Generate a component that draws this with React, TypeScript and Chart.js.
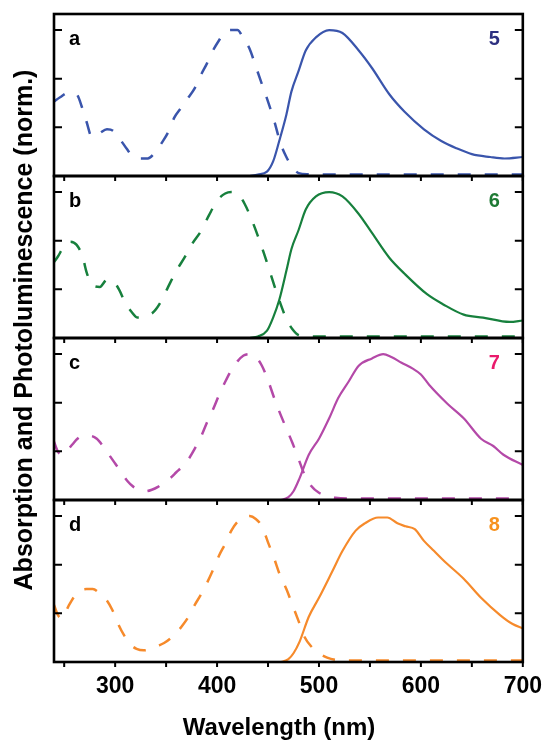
import { useEffect, useRef } from 'react';
import { Chart, registerables } from 'chart.js';

Chart.register(...registerables);

// ---------- data ----------
const xTickLabels = [300, 400, 500, 600, 700];
const xTickMarks = [250, 300, 350, 400, 450, 500, 550, 600, 650, 700];
const yTickValues = [1 / 3, 2 / 3, 1];
const panelLetters = ['a', 'b', 'c', 'd'];
const compoundLabels = ['5', '6', '7', '8'];
const xTitle = 'Wavelength (nm)';
const yTitle = 'Absorption and Photoluminescence (norm.)';

// panel a (compound 5)
const absAWl = [240, 246, 254, 262, 268, 272, 277, 284, 292, 298, 305, 311, 318, 325, 332, 340, 346, 352, 358, 364, 371, 378, 384, 390, 396, 402, 408, 414, 420, 426, 432, 438, 444, 450, 456, 462, 468, 474, 480, 490, 500, 550, 600, 650, 700];
const absAVal = [0.51, 0.54, 0.57, 0.56, 0.46, 0.37, 0.27, 0.29, 0.32, 0.31, 0.25, 0.19, 0.13, 0.12, 0.12, 0.17, 0.23, 0.30, 0.40, 0.46, 0.53, 0.60, 0.69, 0.77, 0.86, 0.93, 0.99, 1.0, 1.0, 0.94, 0.87, 0.75, 0.63, 0.51, 0.38, 0.23, 0.13, 0.06, 0.02, 0.012, 0.01, 0.01, 0.01, 0.01, 0.01];
const emAWl = [432, 440, 449, 455, 461, 468, 473, 480, 487, 497, 510, 523, 539, 552, 569, 584, 603, 620, 635, 650, 668, 682, 700];
const emAVal = [0.0, 0.01, 0.03, 0.10, 0.24, 0.42, 0.58, 0.72, 0.86, 0.95, 1.0, 0.98, 0.86, 0.74, 0.56, 0.44, 0.32, 0.24, 0.19, 0.15, 0.13, 0.12, 0.13];

// panel b (compound 6)
const absBWl = [240, 244, 250, 256, 262, 268, 272, 278, 285, 292, 298, 304, 310, 316, 322, 330, 338, 345, 352, 360, 368, 376, 384, 392, 400, 408, 414, 420, 427, 434, 440, 446, 452, 458, 463, 468, 474, 480, 490, 500, 550, 600, 650, 700];
const absBVal = [0.52, 0.56, 0.63, 0.66, 0.64, 0.56, 0.45, 0.36, 0.35, 0.40, 0.39, 0.33, 0.24, 0.18, 0.14, 0.15, 0.18, 0.25, 0.35, 0.46, 0.55, 0.65, 0.73, 0.84, 0.94, 0.99, 1.0, 0.99, 0.92, 0.81, 0.70, 0.58, 0.45, 0.32, 0.22, 0.13, 0.06, 0.02, 0.012, 0.01, 0.01, 0.01, 0.01, 0.01];
const emBWl = [432, 440, 449, 455, 461, 468, 473, 480, 487, 497, 510, 523, 539, 552, 569, 584, 606, 622, 642, 661, 687, 700];
const emBVal = [0.0, 0.01, 0.05, 0.14, 0.26, 0.46, 0.61, 0.74, 0.88, 0.97, 1.0, 0.97, 0.85, 0.72, 0.55, 0.44, 0.30, 0.23, 0.16, 0.14, 0.11, 0.12];

// panel c (compound 7)
const absCWl = [240, 244, 248, 253, 258, 263, 268, 275, 282, 288, 294, 300, 306, 312, 318, 324, 330, 336, 342, 348, 354, 360, 366, 372, 378, 384, 390, 396, 402, 408, 414, 420, 426, 432, 438, 444, 450, 456, 462, 468, 474, 480, 486, 492, 500, 508, 516, 530, 600, 650, 700];
const absCVal = [0.40, 0.33, 0.31, 0.34, 0.38, 0.42, 0.44, 0.44, 0.42, 0.37, 0.31, 0.25, 0.19, 0.13, 0.09, 0.07, 0.06, 0.07, 0.09, 0.12, 0.15, 0.19, 0.23, 0.28, 0.35, 0.43, 0.53, 0.62, 0.72, 0.81, 0.89, 0.95, 0.99, 1.0, 0.98, 0.92, 0.82, 0.70, 0.59, 0.49, 0.39, 0.28, 0.17, 0.10, 0.05, 0.03, 0.015, 0.01, 0.01, 0.01, 0.01];
const emCWl = [463, 470, 475, 481, 490, 500, 510, 519, 529, 539, 552, 563, 571, 581, 592, 600, 608, 626, 642, 659, 671, 681, 700];
const emCVal = [0.0, 0.02, 0.06, 0.15, 0.31, 0.42, 0.56, 0.70, 0.81, 0.92, 0.97, 1.0, 0.98, 0.94, 0.90, 0.86, 0.79, 0.66, 0.56, 0.42, 0.37, 0.31, 0.24];

// panel d (compound 8)
const absDWl = [240, 244, 248, 254, 260, 266, 272, 278, 285, 291, 297, 303, 309, 315, 321, 328, 335, 342, 348, 354, 360, 366, 372, 378, 384, 390, 396, 402, 408, 414, 420, 426, 432, 438, 444, 450, 456, 462, 468, 474, 480, 486, 492, 500, 508, 516, 530, 600, 650, 700];
const absDVal = [0.39, 0.32, 0.30, 0.38, 0.45, 0.49, 0.50, 0.50, 0.47, 0.43, 0.36, 0.26, 0.18, 0.12, 0.09, 0.08, 0.09, 0.11, 0.13, 0.16, 0.20, 0.25, 0.31, 0.39, 0.46, 0.54, 0.63, 0.73, 0.81, 0.90, 0.96, 0.99, 1.0, 0.98, 0.93, 0.82, 0.71, 0.59, 0.50, 0.39, 0.28, 0.17, 0.11, 0.06, 0.03, 0.015, 0.01, 0.01, 0.01, 0.01];
const emDWl = [463, 470, 475, 481, 490, 500, 513, 523, 536, 545, 558, 567, 577, 585, 594, 603, 613, 623, 642, 659, 678, 690, 700];
const emDVal = [0.0, 0.02, 0.06, 0.14, 0.31, 0.44, 0.62, 0.76, 0.90, 0.95, 0.99, 0.99, 0.95, 0.93, 0.91, 0.83, 0.76, 0.69, 0.57, 0.44, 0.32, 0.26, 0.23];

const seriesColors = ['#3a55ac', '#17803d', '#b449a8', '#f68a2b'];
const labelColors = ['#2d3080', '#1e7a34', '#ea1a6c', '#f7921f'];
const panelIds = ['ya', 'yb', 'yc', 'yd'];

const FONT = '"Liberation Sans", Arial, Helvetica, sans-serif';

const toPts = (wl: number[], v: number[]) => wl.map((x, i) => ({ x, y: v[i] }));

const framePlugin = {
  id: 'frames',
  afterDatasetsDraw(chart: any) {
    const { ctx, chartArea } = chart;
    const xs = chart.scales.x;
    const L = chartArea.left;
    const R = chartArea.right;
    ctx.save();
    panelIds.forEach((id, i) => {
      const s = chart.scales[id];
      const T = s.top;
      const B = s.bottom;
      ctx.strokeStyle = '#000';
      ctx.lineWidth = 2.6;
      ctx.strokeRect(L, T, R - L, B - T);
      ctx.lineWidth = 2;
      ctx.beginPath();
      yTickValues.forEach((v) => {
        const py = s.getPixelForValue(v);
        ctx.moveTo(L, py);
        ctx.lineTo(L + 8, py);
        ctx.moveTo(R, py);
        ctx.lineTo(R - 8, py);
      });
      xTickMarks.forEach((v) => {
        const px = xs.getPixelForValue(v);
        ctx.moveTo(px, B);
        ctx.lineTo(px, B + 5);
      });
      ctx.stroke();
      ctx.font = `bold 20px ${FONT}`;
      ctx.textBaseline = 'alphabetic';
      ctx.fillStyle = '#000';
      ctx.textAlign = 'left';
      ctx.fillText(panelLetters[i], L + 15, T + 31);
      ctx.fillStyle = labelColors[i];
      ctx.textAlign = 'right';
      ctx.fillText(compoundLabels[i], R - 23, T + 31);
    });
    // axis titles
    ctx.fillStyle = '#000';
    ctx.font = `bold 24px ${FONT}`;
    ctx.textAlign = 'center';
    ctx.textBaseline = 'alphabetic';
    ctx.fillText(xTitle, L + (R - L) * 0.48, chart.height - 5);
    ctx.save();
    ctx.font = `bold 25px ${FONT}`;
    ctx.translate(25, 330);
    ctx.rotate(-Math.PI / 2);
    ctx.textBaseline = 'middle';
    ctx.fillText(yTitle, 0, 0);
    ctx.restore();
    ctx.restore();
  },
};

function yScale() {
  return {
    type: 'linear',
    position: 'left',
    stack: 'panels',
    stackWeight: 1,
    min: 0,
    max: 1.11,
    ticks: { display: false },
    grid: { display: false, drawTicks: false },
    border: { display: false },
    afterFit: (s: any) => {
      s.width = 54;
    },
  };
}

export default function App() {
  const ref = useRef<HTMLCanvasElement | null>(null);
  useEffect(() => {
    if (!ref.current) return;
    const abs = [toPts(absAWl, absAVal), toPts(absBWl, absBVal), toPts(absCWl, absCVal), toPts(absDWl, absDVal)];
    const em = [toPts(emAWl, emAVal), toPts(emBWl, emBVal), toPts(emCWl, emCVal), toPts(emDWl, emDVal)];
    const datasets: any[] = [];
    panelIds.forEach((id, i) => {
      datasets.push({
        label: `abs ${compoundLabels[i]}`,
        data: abs[i],
        yAxisID: id,
        borderColor: seriesColors[i],
        borderWidth: 2.5,
        borderDash: [13, 14],
        pointRadius: 0,
        cubicInterpolationMode: 'monotone',
        fill: false,
      });
      datasets.push({
        label: `PL ${compoundLabels[i]}`,
        data: em[i],
        yAxisID: id,
        borderColor: seriesColors[i],
        borderWidth: 2.2,
        pointRadius: 0,
        cubicInterpolationMode: 'monotone',
        fill: false,
      });
    });
    // stacked y axes are laid out top-down in reverse order of definition
    const scales: any = {
      x: {
        type: 'linear',
        position: 'bottom',
        min: 240,
        max: 700,
        grid: { display: false, drawTicks: false, tickLength: 0 },
        border: { display: false },
        ticks: {
          padding: 11,
          color: '#000',
          font: { family: FONT, size: 23, weight: 'bold' },
          maxRotation: 0,
        },
        afterBuildTicks: (s: any) => {
          s.ticks = xTickLabels.map((v) => ({ value: v }));
        },
        afterFit: (s: any) => {
          s.height = 78;
        },
      },
    };
    [...panelIds].reverse().forEach((id) => {
      scales[id] = yScale();
    });
    const chart = new Chart(ref.current, {
      type: 'line',
      data: { datasets },
      options: {
        responsive: false,
        animation: false,
        layout: { padding: { top: 14, right: 22, left: 0, bottom: 0 } },
        plugins: { legend: { display: false }, tooltip: { enabled: false } },
        scales,
      },
      plugins: [framePlugin],
    } as any);
    return () => chart.destroy();
  }, []);
  return (
    <div style={{ position: 'absolute', left: 0, top: 0, width: 553, height: 740, background: '#fff' }}>
      <canvas ref={ref} width={553} height={740} style={{ display: 'block' }} />
    </div>
  );
}
